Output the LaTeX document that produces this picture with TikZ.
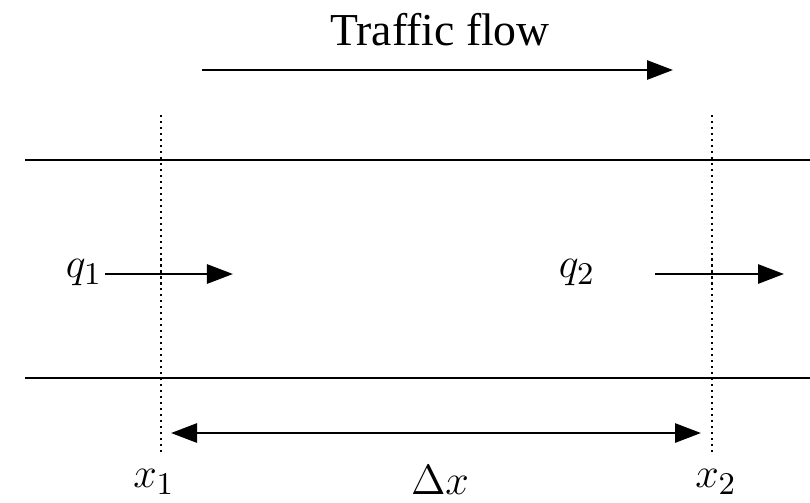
\documentclass[tikz,border=0pt]{standalone}
\usepackage{fontspec}
\setmainfont{Liberation Serif}
\usetikzlibrary{arrows.meta}

\tikzset{
  road/.style={line width=0.8pt},
  flowarrow/.style={line width=0.8pt, -{Triangle[length=2.6mm,width=1.9mm]}},
  gauge/.style={line width=0.6pt, dash pattern=on 0.6pt off 1.1pt},
  lbl/.style={inner sep=0pt, font=\fontsize{13}{15}\selectfont}
}

\begin{document}
\begin{tikzpicture}[x=0.01cm,y=-0.01cm]
\useasboundingbox (0,0) rectangle (810,502);

% Road
\draw[road] (25,160) -- (810,160);
\draw[road] (25,378) -- (810,378);

% Sections
\coordinate (s1top) at (161,115);
\coordinate (s1bot) at (161,455);
\coordinate (s2top) at (712,115);
\coordinate (s2bot) at (712,455);
\draw[gauge] (s1top) -- (s1bot);
\draw[gauge] (s2top) -- (s2bot);

% Traffic flow
\node[lbl] (title) at (440,30) {Traffic flow};
\coordinate (fstart) at (202,70);
\coordinate (fend) at (673,70);
\draw[flowarrow] (fstart) -- (fend);

% Flows
\node[lbl] (q1) at (84,273) {$q_1$};
\node[lbl] (q2) at (577,273) {$q_2$};
\coordinate (q1start) at (105,274);
\coordinate (q1end) at (233,274);
\coordinate (q2start) at (655,274);
\coordinate (q2end) at (784,274);
\draw[flowarrow] (q1start) -- (q1end);
\draw[flowarrow] (q2start) -- (q2end);

% Labels
\coordinate (dleft) at (171,433);
\coordinate (dright) at (701,433);
\draw[flowarrow, {Triangle[length=2.6mm,width=1.9mm]}-{Triangle[length=2.6mm,width=1.9mm]}] (dleft) -- (dright);
\node[lbl] (dx) at (440,480) {$\Delta x$};
\node[lbl] (x1) at (154,482) {$x_1$};
\node[lbl] (x2) at (716,482) {$x_2$};

\end{tikzpicture}
\end{document}
